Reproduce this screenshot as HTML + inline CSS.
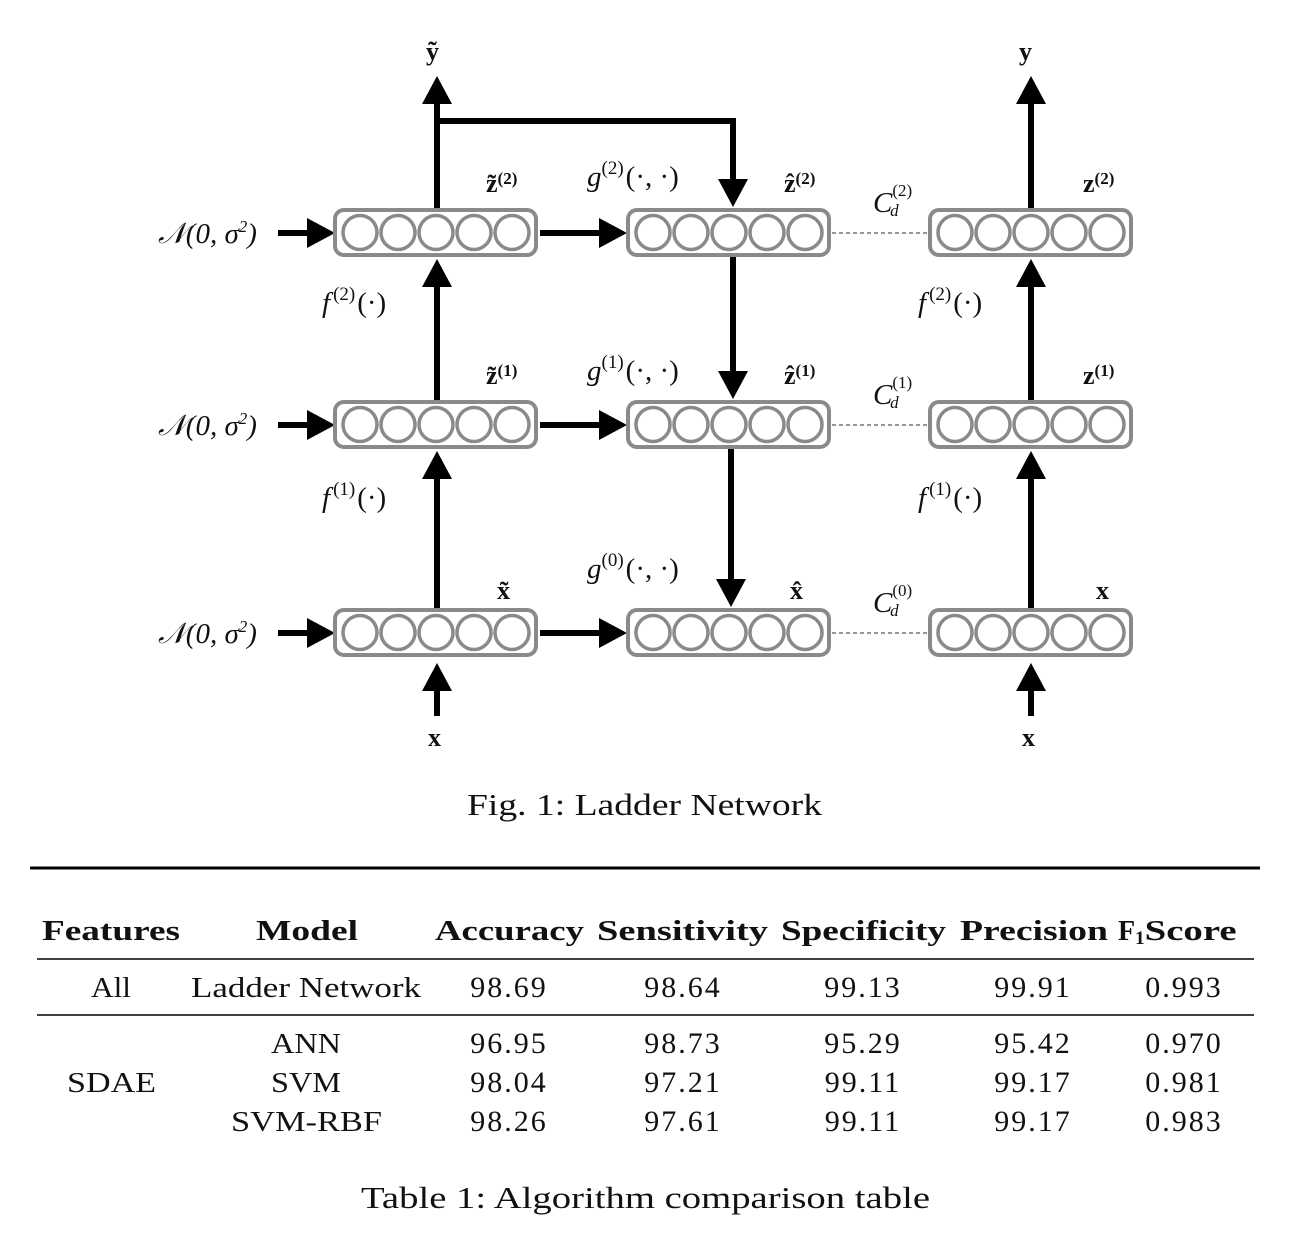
<!DOCTYPE html>
<html><head><meta charset="utf-8"><style>
body{margin:0;background:#fff;}
svg{display:block}
text{font-family:"Liberation Serif",serif;fill:#111}
.n{font-size:30px;letter-spacing:2px}
</style></head><body>
<svg width="1292" height="1251" viewBox="0 0 1292 1251" xmlns="http://www.w3.org/2000/svg">
<defs>
<g id="box">
<rect x="2" y="2" width="201" height="45" rx="9" fill="#fff" stroke="#8a8a8a" stroke-width="4"/>
<circle cx="27" cy="24.5" r="17" fill="#fff" stroke="#8a8a8a" stroke-width="3.5"/>
<circle cx="65" cy="24.5" r="17" fill="#fff" stroke="#8a8a8a" stroke-width="3.5"/>
<circle cx="103" cy="24.5" r="17" fill="#fff" stroke="#8a8a8a" stroke-width="3.5"/>
<circle cx="141" cy="24.5" r="17" fill="#fff" stroke="#8a8a8a" stroke-width="3.5"/>
<circle cx="179" cy="24.5" r="17" fill="#fff" stroke="#8a8a8a" stroke-width="3.5"/>
</g>
</defs>
<g stroke="#000" stroke-width="6" fill="none">
<line x1="437" y1="100" x2="437" y2="209"/>
<line x1="437" y1="285" x2="437" y2="401"/>
<line x1="437" y1="475" x2="437" y2="609"/>
<line x1="437" y1="690" x2="437" y2="716"/>
<polyline points="437,121 733,121 733,185"/>
<line x1="733" y1="257" x2="733" y2="377"/>
<line x1="731" y1="449" x2="731" y2="585"/>
<line x1="1031" y1="100" x2="1031" y2="209"/>
<line x1="1031" y1="285" x2="1031" y2="401"/>
<line x1="1031" y1="475" x2="1031" y2="609"/>
<line x1="1031" y1="690" x2="1031" y2="716"/>
<line x1="278" y1="233" x2="310" y2="233"/>
<line x1="278" y1="425" x2="310" y2="425"/>
<line x1="278" y1="633" x2="310" y2="633"/>
<line x1="540" y1="233" x2="600" y2="233"/>
<line x1="540" y1="425" x2="600" y2="425"/>
<line x1="540" y1="633" x2="600" y2="633"/>
</g>
<g fill="#000">
<polygon points="437,76 422,104 452,104"/>
<polygon points="437,259 422,287 452,287"/>
<polygon points="437,451 422,479 452,479"/>
<polygon points="437,663 422,691 452,691"/>
<polygon points="1031,76 1016,104 1046,104"/>
<polygon points="1031,259 1016,287 1046,287"/>
<polygon points="1031,451 1016,479 1046,479"/>
<polygon points="1031,663 1016,691 1046,691"/>
<polygon points="733,207 718,179 748,179"/>
<polygon points="733,399 718,371 748,371"/>
<polygon points="731,607 716,579 746,579"/>
<polygon points="335,233 307,218 307,248"/>
<polygon points="335,425 307,410 307,440"/>
<polygon points="335,633 307,618 307,648"/>
<polygon points="627,233 599,218 599,248"/>
<polygon points="627,425 599,410 599,440"/>
<polygon points="627,633 599,618 599,648"/>
</g>
<g stroke="#777" stroke-width="1.5" stroke-dasharray="4,3">
<line x1="832" y1="233" x2="929" y2="233"/>
<line x1="832" y1="425" x2="929" y2="425"/>
<line x1="832" y1="633" x2="929" y2="633"/>
</g>
<use href="#box" x="333" y="208"/><use href="#box" x="626" y="208"/><use href="#box" x="928" y="208"/>
<use href="#box" x="333" y="400"/><use href="#box" x="626" y="400"/><use href="#box" x="928" y="400"/>
<use href="#box" x="333" y="608"/><use href="#box" x="626" y="608"/><use href="#box" x="928" y="608"/>
<g font-size="29" font-style="italic">
<text x="158" y="243">𝒩(0, σ<tspan font-size="17" dy="-11">2</tspan><tspan dy="11">)</tspan></text>
<text x="158" y="435">𝒩(0, σ<tspan font-size="17" dy="-11">2</tspan><tspan dy="11">)</tspan></text>
<text x="158" y="643">𝒩(0, σ<tspan font-size="17" dy="-11">2</tspan><tspan dy="11">)</tspan></text>
<text x="322" y="312">f<tspan font-size="19" dy="-12" dx="3" font-style="normal">(2)</tspan><tspan dy="12" dx="2" font-style="normal">(·)</tspan></text>
<text x="322" y="507">f<tspan font-size="19" dy="-12" dx="3" font-style="normal">(1)</tspan><tspan dy="12" dx="2" font-style="normal">(·)</tspan></text>
<text x="918" y="312">f<tspan font-size="19" dy="-12" dx="3" font-style="normal">(2)</tspan><tspan dy="12" dx="2" font-style="normal">(·)</tspan></text>
<text x="918" y="507">f<tspan font-size="19" dy="-12" dx="3" font-style="normal">(1)</tspan><tspan dy="12" dx="2" font-style="normal">(·)</tspan></text>
<text x="587" y="186">g<tspan font-size="19" dy="-12" font-style="normal">(2)</tspan><tspan dy="12" dx="2" font-style="normal">(·, ·)</tspan></text>
<text x="587" y="380">g<tspan font-size="19" dy="-12" font-style="normal">(1)</tspan><tspan dy="12" dx="2" font-style="normal">(·, ·)</tspan></text>
<text x="587" y="578">g<tspan font-size="19" dy="-12" font-style="normal">(0)</tspan><tspan dy="12" dx="2" font-style="normal">(·, ·)</tspan></text>
<text x="873" y="212">C<tspan font-size="17" dy="-16" font-style="normal">(2)</tspan><tspan font-size="17" dx="-22" dy="20">d</tspan></text>
<text x="873" y="404">C<tspan font-size="17" dy="-16" font-style="normal">(1)</tspan><tspan font-size="17" dx="-22" dy="20">d</tspan></text>
<text x="873" y="612">C<tspan font-size="17" dy="-16" font-style="normal">(0)</tspan><tspan font-size="17" dx="-22" dy="20">d</tspan></text>
</g>
<g font-size="26" font-weight="bold">
<text x="426" y="60">ỹ</text>
<text x="1019" y="60">y</text>
<text x="428" y="746">x</text>
<text x="1022" y="746">x</text>
<text x="486" y="192">z̃<tspan font-size="17" dy="-8">(2)</tspan></text>
<text x="486" y="384">z̃<tspan font-size="17" dy="-8">(1)</tspan></text>
<text x="497" y="599">x̃</text>
<text x="784" y="192">ẑ<tspan font-size="17" dy="-8">(2)</tspan></text>
<text x="784" y="384">ẑ<tspan font-size="17" dy="-8">(1)</tspan></text>
<text x="790" y="599">x̂</text>
<text x="1083" y="192">z<tspan font-size="17" dy="-8">(2)</tspan></text>
<text x="1083" y="384">z<tspan font-size="17" dy="-8">(1)</tspan></text>
<text x="1096" y="599">x</text>
</g>
<text x="467" y="815" font-size="31" textLength="355" lengthAdjust="spacingAndGlyphs">Fig. 1: Ladder Network</text>
<line x1="30" y1="868" x2="1260" y2="868" stroke="#000" stroke-width="3"/>
<line x1="37" y1="959" x2="1254" y2="959" stroke="#000" stroke-width="1.5"/>
<line x1="37" y1="1015" x2="1254" y2="1015" stroke="#000" stroke-width="1.5"/>
<g font-size="28" font-weight="bold">
<text x="42" y="940" textLength="138" lengthAdjust="spacingAndGlyphs">Features</text>
<text x="256" y="940" textLength="102" lengthAdjust="spacingAndGlyphs">Model</text>
<text x="435" y="940" textLength="149" lengthAdjust="spacingAndGlyphs">Accuracy</text>
<text x="597" y="940" textLength="171" lengthAdjust="spacingAndGlyphs">Sensitivity</text>
<text x="781" y="940" textLength="165" lengthAdjust="spacingAndGlyphs">Specificity</text>
<text x="960" y="940" textLength="148" lengthAdjust="spacingAndGlyphs">Precision</text>
<text x="1118" y="940">F<tspan font-size="19" dy="4">1</tspan><tspan dy="-4" textLength="92" lengthAdjust="spacingAndGlyphs">Score</tspan></text>
</g>
<g font-size="29">
<text x="91" y="997" textLength="40" lengthAdjust="spacingAndGlyphs">All</text>
<text x="191" y="997" textLength="230" lengthAdjust="spacingAndGlyphs">Ladder Network</text>
<text x="67" y="1092" textLength="89" lengthAdjust="spacingAndGlyphs">SDAE</text>
<text x="271" y="1053" textLength="70" lengthAdjust="spacingAndGlyphs">ANN</text>
<text x="271" y="1092" textLength="70" lengthAdjust="spacingAndGlyphs">SVM</text>
<text x="231" y="1131" textLength="151" lengthAdjust="spacingAndGlyphs">SVM-RBF</text>
</g>
<g class="n" text-anchor="middle">
<text x="509" y="997">98.69</text><text x="683" y="997">98.64</text><text x="863" y="997">99.13</text><text x="1033" y="997">99.91</text><text x="1184" y="997">0.993</text>
<text x="509" y="1053">96.95</text><text x="683" y="1053">98.73</text><text x="863" y="1053">95.29</text><text x="1033" y="1053">95.42</text><text x="1184" y="1053">0.970</text>
<text x="509" y="1092">98.04</text><text x="683" y="1092">97.21</text><text x="863" y="1092">99.11</text><text x="1033" y="1092">99.17</text><text x="1184" y="1092">0.981</text>
<text x="509" y="1131">98.26</text><text x="683" y="1131">97.61</text><text x="863" y="1131">99.11</text><text x="1033" y="1131">99.17</text><text x="1184" y="1131">0.983</text>
</g>
<text x="361" y="1208" font-size="31" textLength="569" lengthAdjust="spacingAndGlyphs">Table 1: Algorithm comparison table</text>
</svg>
</body></html>
